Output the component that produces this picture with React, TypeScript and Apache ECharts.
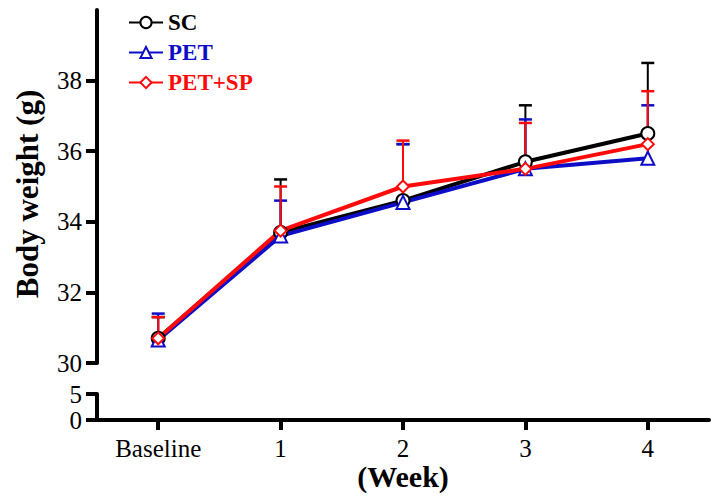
import React, { useEffect, useRef } from "react";
import * as echarts from "echarts";

const categories = ["Baseline", "1", "2", "3", "4"];
const scMean = [30.7, 33.7, 34.6, 35.7, 36.5];
const scSd = [0.6, 1.5, 1.6, 1.6, 2.0];
const petMean = [30.65, 33.6, 34.55, 35.5, 35.8];
const petSd = [0.75, 1.0, 1.65, 1.4, 1.5];
const petSpMean = [30.7, 33.75, 35.0, 35.5, 36.2];
const petSpSd = [0.6, 1.25, 1.3, 1.3, 1.5];
const upperMin = 30;
const upperMax = 40;
const upperLastTick = 38;
const lowerMin = 0;
const lowerMax = 5;

const FONT = "'Liberation Serif', 'Times New Roman', serif";
const BLACK = "#000000";
const BLUE = "#0d0dc8";
const RED = "#ff0a0a";

function errData(mean: number[], sd: number[]) {
  return mean.map((m, i) => [i, m, +(m + sd[i]).toFixed(2)]);
}

function errSeries(name: string, mean: number[], sd: number[], color: string) {
  return {
    type: "custom",
    name: name + " SD",
    xAxisIndex: 0,
    yAxisIndex: 0,
    z: 1,
    encode: { x: 0, y: [1, 2] },
    data: errData(mean, sd),
    renderItem: (params: any, api: any) => {
      const x = api.value(0);
      const m = api.value(1);
      const u = api.value(2);
      const p0 = api.coord([x, m]);
      const p1 = api.coord([x, u]);
      return {
        type: "group",
        children: [
          {
            type: "line",
            shape: { x1: p0[0], y1: p0[1], x2: p1[0], y2: p1[1] },
            style: { stroke: color, lineWidth: 2 },
          },
          {
            type: "line",
            shape: { x1: p1[0] - 6.5, y1: p1[1], x2: p1[0] + 6.5, y2: p1[1] },
            style: { stroke: color, lineWidth: 2.5 },
          },
        ],
      };
    },
  };
}

function lineSeries(name: string, data: number[], color: string, symbol: string, size: number) {
  return {
    type: "line",
    name,
    xAxisIndex: 0,
    yAxisIndex: 0,
    z: 3,
    data,
    symbol,
    symbolSize: size,
    showAllSymbol: true,
    lineStyle: { color, width: 4 },
    itemStyle: { color: "#ffffff", borderColor: color, borderWidth: 2 },
    emphasis: { disabled: true },
  };
}

export default function App() {
  const ref = useRef<HTMLDivElement>(null);
  useEffect(() => {
    if (!ref.current) return;
    const chart = echarts.init(ref.current, undefined, { renderer: "svg" });
    const axisLineStyle = { color: "#000", width: 4 };
    const tickStyle = { show: true, inside: false, length: 11, lineStyle: { color: "#000", width: 4 } };
    const labelStyle = { color: "#000", fontFamily: FONT, fontSize: 25, margin: 15 };
    const upperTop = 10;
    const upperHeight = 353;
    const tickGridTop = upperTop + (upperHeight * (upperMax - upperLastTick)) / (upperMax - upperMin);
    const tickGridHeight = upperTop + upperHeight - tickGridTop;
    chart.setOption({
      animation: false,
      backgroundColor: "#ffffff",
      legend: {
        orient: "vertical",
        left: 128,
        top: 11,
        padding: 0,
        itemWidth: 34,
        itemHeight: 14,
        itemGap: 7,
        itemTextGap: 5,
        data: [
          { name: "SC", textStyle: { color: BLACK } },
          { name: "PET", textStyle: { color: BLUE } },
          { name: "PET+SP", textStyle: { color: RED } },
        ],
        textStyle: { fontFamily: FONT, fontWeight: "bold", fontSize: 23 },
      },
      grid: [
        { left: 97, right: 6, top: upperTop, height: upperHeight },
        { left: 97, right: 6, top: 394, height: 26 },
        { left: 97, right: 6, top: tickGridTop, height: tickGridHeight },
      ],
      xAxis: [
        { type: "category", gridIndex: 0, data: categories, boundaryGap: true, show: false },
        {
          type: "category",
          gridIndex: 1,
          data: categories,
          boundaryGap: true,
          axisLine: { show: true, lineStyle: axisLineStyle },
          axisTick: { ...tickStyle, length: 10, alignWithLabel: true },
          axisLabel: { ...labelStyle, margin: 16 },
          name: "(Week)",
          nameLocation: "middle",
          nameGap: 36,
          nameTextStyle: { color: "#000", fontFamily: FONT, fontWeight: "bold", fontSize: 30 },
        },
        { type: "category", gridIndex: 2, data: categories, boundaryGap: true, show: false },
      ],
      yAxis: [
        {
          type: "value",
          gridIndex: 0,
          min: upperMin,
          max: upperMax,
          interval: 2,
          splitLine: { show: false },
          axisLine: { show: true, onZero: false, lineStyle: axisLineStyle },
          axisTick: { show: false },
          axisLabel: { show: false },
        },
        {
          type: "value",
          gridIndex: 1,
          min: lowerMin,
          max: lowerMax,
          interval: 5,
          splitLine: { show: false },
          axisLine: { show: true, onZero: false, lineStyle: axisLineStyle },
          axisTick: { ...tickStyle },
          axisLabel: { ...labelStyle },
        },
        {
          type: "value",
          gridIndex: 2,
          min: upperMin,
          max: upperLastTick,
          interval: 2,
          splitLine: { show: false },
          axisLine: { show: false, onZero: false },
          axisTick: { ...tickStyle },
          axisLabel: { ...labelStyle },
        },
      ],
      graphic: [
        {
          type: "text",
          x: 27,
          y: 194,
          rotation: Math.PI / 2,
          style: {
            text: "Body weight (g)",
            fill: "#000",
            font: `bold 31px ${FONT}`,
            textAlign: "center",
            textVerticalAlign: "middle",
          },
        },
      ],
      series: [
        errSeries("SC", scMean, scSd, BLACK),
        errSeries("PET", petMean, petSd, BLUE),
        errSeries("PET+SP", petSpMean, petSpSd, RED),
        lineSeries("SC", scMean, BLACK, "circle", 13),
        lineSeries("PET", petMean, BLUE, "triangle", 13),
        lineSeries("PET+SP", petSpMean, RED, "diamond", 12),
      ],
    });
    return () => chart.dispose();
  }, []);
  return <div ref={ref} style={{ width: 715, height: 498, position: "absolute", left: 0, top: 0 }} />;
}
